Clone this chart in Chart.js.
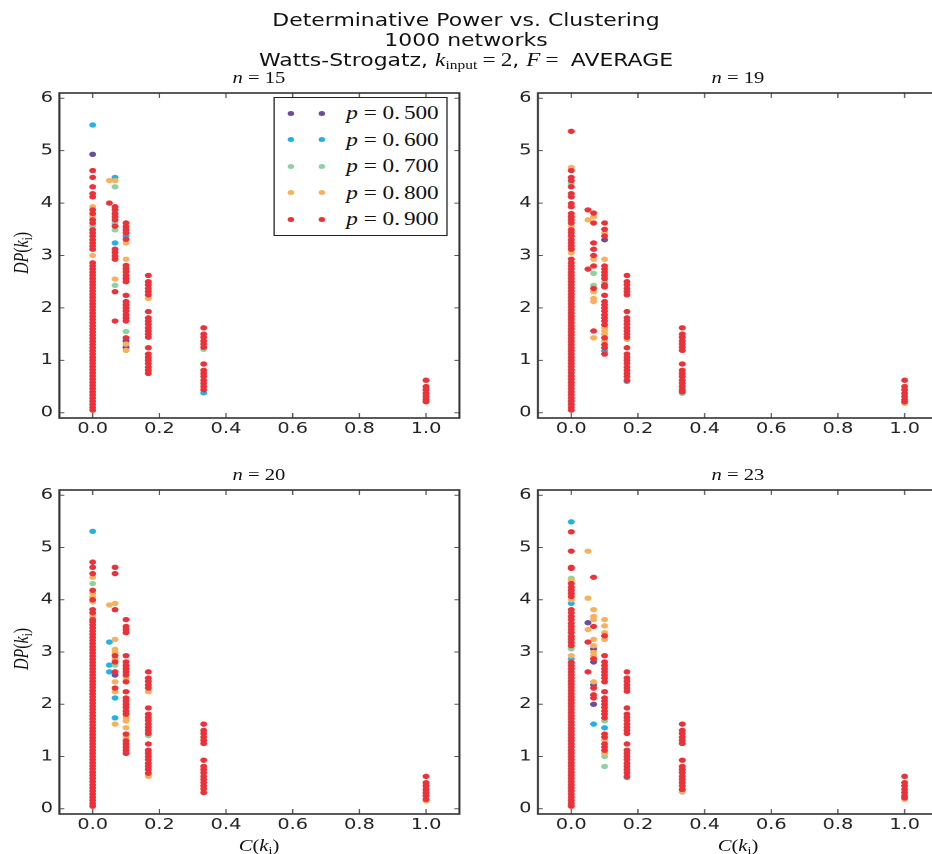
<!DOCTYPE html>
<html>
<head>
<meta charset="utf-8">
<title>Determinative Power vs. Clustering</title>
<script src="https://cdn.jsdelivr.net/npm/chart.js@4.4.1/dist/chart.umd.min.js"></script>
<style>
    html,body{margin:0;padding:0;background:#fff;overflow:hidden;}
    body{width:932px;height:854px;position:relative;}
    #stage{position:absolute;left:0;top:0;height:854px;transform-origin:0 0;}
    .panel{position:absolute;}
    .txt{position:absolute;white-space:nowrap;color:#111;line-height:20px;}
    .title{left:0;right:0;text-align:center;font-family:"DejaVu Sans",sans-serif;font-size:17px;}
    .math{font-family:"Liberation Serif","DejaVu Serif",serif;}
    .math sub{font-size:11px;line-height:0;vertical-align:-3px;font-style:normal;}
    .title .math{font-size:18px;}
    .title .math sub{font-size:12px;}
    .eq{margin:0 4px;}
    .sub-title{font-size:16px;text-align:center;width:100px;margin-left:-50px;}
    .axis-label{font-size:16px;text-align:center;width:100px;margin-left:-50px;}
    .y-label{transform:rotate(-90deg);}
    .legend{position:absolute;box-sizing:border-box;border:1.5px solid #222;background:#fff;}
    .legend .dot{position:absolute;width:5px;height:5px;border-radius:50%;margin:-2.5px 0 0 -2.5px;}
    .legend .lbl{position:absolute;font-family:"Liberation Serif","DejaVu Serif",serif;font-size:18px;line-height:20px;margin-top:-10px;white-space:nowrap;color:#111;}
</style>
</head>
<body>
<div id="stage">
    <div class="txt title" style="top:10px">Determinative Power vs. Clustering</div>
    <div class="txt title" style="top:30px">1000 networks</div>
    <div class="txt title" style="top:50px">Watts-Strogatz, <span class="math"><i>k</i><sub>input</sub><span class="eq">=</span>2</span>, <span class="math"><i>F</i><span class="eq">=</span></span>&nbsp;AVERAGE</div>
</div>
<script>
// rewiring probabilities and their colours
const P_LABELS = ["0.500","0.600","0.700","0.800","0.900"];
const P_COLORS = ["#6a4d9c","#22b2e8","#8fd2a2","#f9b05d","#ec3139"];
const N_VALUES = [15,19,20,23];
const X_TICKS = [0,0.2,0.4,0.6,0.8,1.0];
const Y_TICKS = [0,1,2,3,4,5,6];

// each series: list of [C(k_i), [DP(k_i) values]]
const n15_p50 = [[0,[4.93]],[0.1,[1.37,1.25]]];
const n15_p60 = [[0,[5.49]],[0.067,[4.49,3.24]],[0.1,[3.37]],[0.333,[0.38]]];
const n15_p70 = [[0,[3.56]],[0.067,[4.31,3.62,3.49,2.43]],[0.1,[1.55]],[0.333,[1.21]]];
const n15_p80 = [[0,[3.93,3.74,3.00]],[0.05,[4.43]],[0.067,[4.43,2.55]],[0.1,[3.24,2.93,1.31,1.19]],[0.167,[2.18]]];
const n15_p90 = [
    [0,[0.05,0.10,0.16,0.22,0.28,0.34,0.40,0.46,0.52,0.58,0.64,0.70,0.76,0.82,0.88,0.94,1.00,1.06,1.12,1.18,1.24,1.30,1.36,1.42,1.48,1.54,1.60,1.66,1.72,1.78,1.84,1.90,1.96,2.02,2.08,2.14,2.20,2.26,2.32,2.38,2.44,2.50,2.56,2.62,2.68,2.74,2.80,2.86,3.12,3.18,3.24,3.30,3.37,3.43,3.49,3.62,3.68,3.80,3.87,4.12,4.18,4.31,4.49,4.62]],
    [0.05,[4.00]],
    [0.067,[3.93,3.87,3.80,3.74,3.68,3.56,3.12,3.06,2.99,2.93,2.31,1.75]],
    [0.1,[3.62,3.55,3.49,3.43,3.31,2.81,2.75,2.69,2.62,2.56,2.50,2.24,2.12,2.06,2.00,1.94,1.87,1.81,1.75,1.43]],
    [0.167,[2.62,2.50,2.44,2.37,2.31,2.25,1.93,1.81,1.75,1.69,1.62,1.56,1.50,1.44,1.24,1.12,1.06,1.00,0.94,0.87,0.81,0.75]],
    [0.333,[1.62,1.50,1.44,1.37,1.31,1.25,0.93,0.81,0.75,0.69,0.62,0.56,0.50,0.44]],
    [1,[0.62,0.50,0.44,0.37,0.31,0.25,0.21]]
];

const n19_p50 = [[0.1,[3.30]]];
const n19_p60 = [[0.1,[1.18]],[0.167,[0.60]]];
const n19_p70 = [[0,[4.37]],[0.067,[2.66,2.43]],[0.1,[2.50]],[0.333,[0.37]]];
const n19_p80 = [[0,[4.68,3.56,3.05]],[0.05,[3.68]],[0.067,[3.74,2.93,2.31,2.18,2.12,1.43]],[0.1,[3.43,2.93,1.62,1.56,1.50,1.37]],[0.167,[1.40]],[1,[0.18]]];
const n19_p90 = [
    [0,[0.05,0.10,0.16,0.22,0.28,0.34,0.40,0.46,0.52,0.58,0.64,0.70,0.76,0.82,0.88,0.94,1.00,1.06,1.12,1.18,1.24,1.30,1.36,1.42,1.48,1.54,1.60,1.66,1.72,1.78,1.84,1.90,1.96,2.02,2.08,2.14,2.20,2.26,2.32,2.38,2.44,2.50,2.56,2.62,2.68,2.74,2.80,2.86,2.93,3.12,3.18,3.24,3.30,3.37,3.43,3.49,3.62,3.68,3.74,3.80,3.93,3.99,4.12,4.18,4.31,4.43,4.49,4.62,5.37]],
    [0.05,[3.87,2.74]],
    [0.067,[3.81,3.62,3.24,3.12,3.00,2.80,2.37,1.56]],
    [0.1,[3.62,3.50,3.37,2.80,2.74,2.68,2.62,2.56,2.44,2.40,2.24,2.12,2.06,2.00,1.94,1.87,1.81,1.75,1.68,1.43,1.30,1.24,1.12]],
    [0.167,[2.62,2.50,2.44,2.37,2.31,2.25,1.93,1.81,1.75,1.69,1.62,1.56,1.50,1.44,1.24,1.12,1.06,1.00,0.94,0.87,0.81,0.75,0.69,0.62]],
    [0.333,[1.62,1.50,1.44,1.37,1.31,1.25,1.19,0.93,0.81,0.75,0.69,0.62,0.56,0.50,0.44,0.40]],
    [1,[0.62,0.50,0.44,0.37,0.31,0.25,0.21]]
];

const n20_p50 = [[0.067,[2.56]]];
const n20_p60 = [[0,[5.31]],[0.05,[3.19,2.75,2.62]],[0.067,[2.12,1.74]]];
const n20_p70 = [[0,[4.31]],[0.067,[2.75]],[0.167,[1.40]]];
const n20_p80 = [[0,[4.43,4.12,4.06,3.96,3.68]],[0.05,[3.90]],[0.067,[3.93,3.24,3.05,2.99,2.87,2.43,2.24,1.62]],[0.1,[2.50,1.74,1.68,1.55,1.37]],[0.167,[2.24,0.62]],[1,[0.15]]];
const n20_p90 = [
    [0,[0.05,0.10,0.16,0.22,0.28,0.34,0.40,0.46,0.52,0.58,0.64,0.70,0.76,0.82,0.88,0.94,1.00,1.06,1.12,1.18,1.24,1.30,1.36,1.42,1.48,1.54,1.60,1.66,1.72,1.78,1.84,1.90,1.96,2.02,2.08,2.14,2.20,2.26,2.32,2.38,2.44,2.50,2.56,2.62,2.68,2.74,2.80,2.86,2.92,2.98,3.04,3.10,3.16,3.22,3.28,3.34,3.40,3.46,3.52,3.58,3.62,3.75,3.81,4.00,4.18,4.50,4.62,4.72]],
    [0.067,[4.62,4.50,3.81,2.93,2.81,2.62,2.31]],
    [0.1,[3.62,3.49,3.43,3.37,2.93,2.81,2.74,2.68,2.62,2.56,2.43,2.24,2.12,2.06,2.00,1.94,1.87,1.81,1.43,1.30,1.24,1.18,1.12,1.06]],
    [0.167,[2.62,2.50,2.44,2.37,2.31,1.93,1.81,1.75,1.69,1.62,1.56,1.50,1.44,1.24,1.12,1.06,1.00,0.94,0.87,0.81,0.75,0.68]],
    [0.333,[1.62,1.50,1.44,1.37,1.31,1.25,0.93,0.81,0.75,0.69,0.62,0.56,0.50,0.44,0.38,0.31]],
    [1,[0.62,0.50,0.44,0.37,0.31,0.25,0.18]]
];

const n23_p50 = [[0.05,[3.56]],[0.067,[3.06,2.81,2.37,2.00]]];
const n23_p60 = [[0,[5.49,3.93,2.87]],[0.067,[1.62]],[0.1,[1.55]],[0.167,[0.60]]];
const n23_p70 = [[0,[4.41,3.06]],[0.1,[1.68,1.00,0.81]],[0.333,[0.32]]];
const n23_p80 = [[0,[4.37,4.00,2.93]],[0.05,[4.93,4.03,3.43]],[0.067,[3.81,3.68,3.62,3.24,3.12,2.99,2.93,2.43]],[0.1,[3.62,3.50,3.37,3.24,1.31,1.06]],[0.333,[0.34]],[1,[0.18]]];
const n23_p90 = [
    [0,[0.05,0.10,0.16,0.22,0.28,0.34,0.40,0.46,0.52,0.58,0.64,0.70,0.76,0.82,0.88,0.94,1.00,1.06,1.12,1.18,1.24,1.30,1.36,1.42,1.48,1.54,1.60,1.66,1.72,1.78,1.84,1.90,1.96,2.02,2.08,2.14,2.20,2.26,2.32,2.38,2.44,2.50,2.56,2.62,2.68,2.74,2.80,3.12,3.18,3.24,3.30,3.37,3.43,3.49,3.55,3.62,3.68,3.75,3.81,4.06,4.12,4.18,4.24,4.31,4.60,4.62,4.93,5.30]],
    [0.05,[3.19,2.62]],
    [0.067,[4.43,3.49,2.87,2.31,2.18,2.12]],
    [0.1,[3.31,2.93,2.81,2.74,2.68,2.62,2.56,2.50,2.43,2.24,2.12,2.06,2.00,1.94,1.87,1.81,1.74,1.43,1.37,1.24,1.18,1.12]],
    [0.167,[2.62,2.50,2.44,2.37,2.31,2.25,1.93,1.81,1.75,1.69,1.62,1.56,1.50,1.44,1.24,1.12,1.06,1.00,0.94,0.87,0.81,0.75,0.69,0.62]],
    [0.333,[1.62,1.50,1.44,1.37,1.31,1.25,0.93,0.81,0.75,0.69,0.62,0.56,0.50,0.44,0.37]],
    [1,[0.62,0.50,0.44,0.37,0.31,0.25,0.21]]
];

// whole figure is stretched sideways
const SX = 1.29;
const YW = 45, PT = 8, PR = 8, XH = 30;

const PANELS = [
    {n:N_VALUES[0], series:[n15_p50,n15_p60,n15_p70,n15_p80,n15_p90], left:59, top:87, right:459, bottom:418, legend:true, yLabel:true, xLabel:false},
    {n:N_VALUES[1], series:[n19_p50,n19_p60,n19_p70,n19_p80,n19_p90], left:538, top:87, right:938, bottom:418, legend:false, yLabel:false, xLabel:false},
    {n:N_VALUES[2], series:[n20_p50,n20_p60,n20_p70,n20_p80,n20_p90], left:59, top:484, right:459, bottom:814, legend:false, yLabel:true, xLabel:true},
    {n:N_VALUES[3], series:[n23_p50,n23_p60,n23_p70,n23_p80,n23_p90], left:538, top:484, right:938, bottom:814, legend:false, yLabel:false, xLabel:true}
];

const stage = document.getElementById("stage");
stage.style.width = (932/SX)+"px";
stage.style.transform = "scaleX("+SX+")";

function toPoints(cols){
    const pts = [];
    cols.forEach(([x,ys])=>ys.forEach(y=>pts.push({x,y})));
    return pts;
}

function addText(html,cls,x,y){
    const el = document.createElement("div");
    el.className = "txt "+cls;
    el.innerHTML = html;
    el.style.left = (x/SX)+"px";
    el.style.top = (y-10)+"px";
    stage.appendChild(el);
    return el;
}

// box round the axes with inward ticks on all four sides
const framePlugin = {
    id:"frame",
    afterDatasetsDraw(chart){
        const {ctx, chartArea:a, scales:{x,y}} = chart;
        ctx.save();
        ctx.strokeStyle = "#555";
        ctx.lineWidth = 1;
        ctx.beginPath();
        X_TICKS.forEach(v=>{
            const px = x.getPixelForValue(v);
            ctx.moveTo(px,a.bottom); ctx.lineTo(px,a.bottom-5);
            ctx.moveTo(px,a.top); ctx.lineTo(px,a.top+5);
        });
        Y_TICKS.forEach(v=>{
            const py = y.getPixelForValue(v);
            ctx.moveTo(a.left,py); ctx.lineTo(a.left+5/SX,py);
            ctx.moveTo(a.right,py); ctx.lineTo(a.right-5/SX,py);
        });
        ctx.stroke();
        ctx.strokeStyle = "#333";
        ctx.lineWidth = 1.6;
        ctx.strokeRect(a.left,a.top,a.right-a.left,a.bottom-a.top);
        ctx.restore();
    }
};

function makePanel(p){
    const w = (p.right-p.left)/SX, h = p.bottom-p.top;
    const box = document.createElement("div");
    box.className = "panel";
    box.style.left = (p.left/SX-YW)+"px";
    box.style.top = (p.top-PT)+"px";
    box.style.width = (w+YW+PR)+"px";
    box.style.height = (h+PT+XH)+"px";
    const canvas = document.createElement("canvas");
    box.appendChild(canvas);
    stage.appendChild(box);

    const tickFont = {family:"DejaVu Sans", size:15};

    new Chart(canvas,{
        type:"scatter",
        data:{
            datasets:p.series.map((cols,i)=>({
                label:"p = "+P_LABELS[i],
                data:toPoints(cols),
                backgroundColor:P_COLORS[i],
                borderWidth:0,
                pointRadius:2.7,
                pointHoverRadius:2.7,
                order:P_LABELS.length-i
            }))
        },
        options:{
            responsive:true,
            maintainAspectRatio:false,
            animation:false,
            devicePixelRatio:2,
            events:[],
            layout:{padding:{top:PT,right:PR,left:0,bottom:0}},
            plugins:{legend:{display:false}, tooltip:{enabled:false}},
            scales:{
                x:{
                    type:"linear", min:-0.1, max:1.1,
                    afterBuildTicks:s=>{ s.ticks = X_TICKS.map(v=>({value:v})); },
                    afterFit:s=>{ s.height = XH; },
                    grid:{display:false, drawTicks:false},
                    border:{display:false},
                    ticks:{padding:2, color:"#222", font:tickFont, callback:v=>v.toFixed(1)}
                },
                y:{
                    type:"linear", min:-0.1, max:6.1,
                    afterBuildTicks:s=>{ s.ticks = Y_TICKS.map(v=>({value:v})); },
                    afterFit:s=>{ s.width = YW; },
                    grid:{display:false, drawTicks:false},
                    border:{display:false},
                    ticks:{padding:5, color:"#222", font:tickFont, callback:v=>String(v)}
                }
            }
        },
        plugins:[framePlugin]
    });

    const cx = (p.left+p.right)/2, cy = (p.top+p.bottom)/2;
    addText('<i>n</i> = '+p.n,"math sub-title",cx,p.top-9);
    if(p.yLabel){
        addText('<i>DP</i>(<i>k<sub>i</sub></i>)',"math axis-label y-label",22,cy);
    }
    if(p.xLabel){
        addText('<i>C</i>(<i>k<sub>i</sub></i>)',"math axis-label",cx,p.bottom+32);
    }
    if(p.legend){
        const lg = document.createElement("div");
        lg.className = "legend";
        lg.style.left = (273/SX)+"px";
        lg.style.top = "97px";
        lg.style.width = ((447-273)/SX)+"px";
        lg.style.height = "139px";
        P_LABELS.forEach((lab,i)=>{
            const ry = 15+i*26.5;
            [16,47].forEach(mx=>{
                const d = document.createElement("span");
                d.className = "dot";
                d.style.left = (mx/SX)+"px";
                d.style.top = ry+"px";
                d.style.background = P_COLORS[i];
                lg.appendChild(d);
            });
            const t = document.createElement("span");
            t.className = "lbl";
            t.style.left = (72/SX)+"px";
            t.style.top = ry+"px";
            const [a,b] = lab.split(".");
            t.innerHTML = '<i>p</i> = '+a+'.<span style="margin-left:3px">'+b+'</span>';
            lg.appendChild(t);
        });
        stage.appendChild(lg);
    }
}

PANELS.forEach(makePanel);
</script>
</body>
</html>
